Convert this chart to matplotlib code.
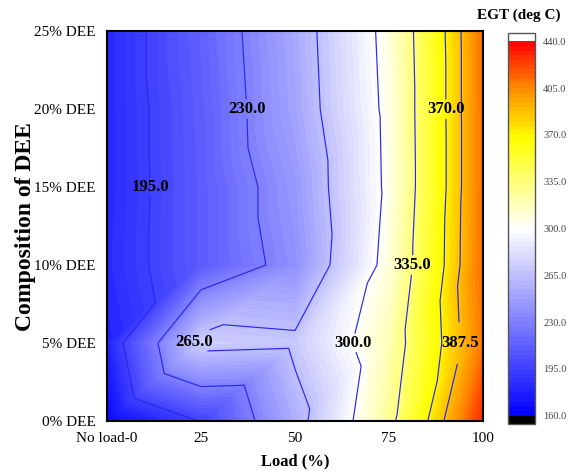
import matplotlib
matplotlib.use("Agg")
import matplotlib.pyplot as plt
import matplotlib.tri as mtri
import numpy as np
from matplotlib.colors import LinearSegmentedColormap

# grid: engine load (%) x DEE share (%), exhaust gas temperature in deg C
loads = [0, 25, 50, 75, 100]
load_labels = ["No load-0", "25", "50", "75", "100"]
dee = [0, 5, 10, 15, 20, 25]
dee_labels = ["0% DEE", "5% DEE", "10% DEE", "15% DEE", "20% DEE", "25% DEE"]
egt_dee0 = [163, 196, 255, 328, 430]
egt_dee5 = [179, 273, 270, 319, 410]
egt_dee10 = [183, 210, 239, 309, 413]
egt_dee15 = [182, 210, 243, 305, 412]
egt_dee20 = [182, 211, 250, 306, 412]
egt_dee25 = [182, 213, 252, 308, 412]
steep_levels = [195, 230, 300, 335, 370]   # labelled where the line runs upright
flat_levels = [265, 387.5]
cbar_ticks = [160, 195, 230, 265, 300, 335, 370, 405, 440]

plt.rcParams["font.family"] = ["Liberation Serif", "DejaVu Serif"]

egt = np.array([egt_dee0, egt_dee5, egt_dee10, egt_dee15, egt_dee20, egt_dee25], float)
X, Y = np.meshgrid(loads, dee)
nx = len(loads)
tris = []
for j in range(len(dee) - 1):
    for i in range(nx - 1):
        a = j * nx + i
        tris += [[a, a + 1, a + nx + 1], [a, a + nx + 1, a + nx]]
tri = mtri.Triangulation(X.ravel(), Y.ravel(), tris)

cmap = LinearSegmentedColormap.from_list(
    "egt", [(0, "#0000ff"), (0.5, "#ffffff"), (0.74, "#ffff00"),
            (0.87, "#ff9000"), (1, "#ff0000")])
cmap.set_under("black")
cmap.set_over("white")

fig = plt.figure(figsize=(5.69, 4.72), dpi=100)
ax = fig.add_axes([0.188, 0.108, 0.661, 0.826])
levels = np.arange(160, 440.01, 3.5)
cf = ax.tricontourf(tri, egt.ravel(), levels=levels, cmap=cmap, extend="both")
cl1 = ax.tricontour(tri, egt.ravel(), levels=steep_levels, colors="#2828f0",
                    linewidths=0.85)
cl2 = ax.tricontour(tri, egt.ravel(), levels=flat_levels, colors="#2828f0",
                    linewidths=0.85)

# bold, upright labels; near-vertical lines get a shorter gap
plt.rcParams["font.weight"] = "bold"
texts = ax.clabel(cl1, fmt="%.1f", fontsize=12, colors="black", inline=True,
                  inline_spacing=-9,
                  manual=[(36.7, 20), (10.9, 15), (90.7, 20), (81.9, 10),
                          (65.2, 5)])
texts += ax.clabel(cl2, fmt="%.1f", fontsize=12, colors="black", inline=True,
                   inline_spacing=2, manual=[(23.4, 5), (94.1, 5)])
plt.rcParams["font.weight"] = "normal"
for t in texts:
    t.set_rotation(0)

ax.set_xlim(0, 100)
ax.set_ylim(0, 25)
ax.set_xticks(loads, load_labels, fontsize=11)
ax.set_yticks(dee, dee_labels, fontsize=11)
ax.tick_params(length=0, pad=8)
for sp in ax.spines.values():
    sp.set_linewidth(1.5)
ax.set_xlabel("Load (%)", fontsize=12, fontweight="bold", labelpad=6)
ax.set_ylabel("Composition of DEE", fontsize=17, fontweight="bold")
ax.yaxis.set_label_coords(-0.19, 0.5)

cax = fig.add_axes([0.893, 0.102, 0.047, 0.828])
cb = fig.colorbar(cf, cax=cax, extendrect=True, extendfrac=0.022,
                  ticks=cbar_ticks, format="%.1f")
cb.outline.set_edgecolor("#555555")
cb.outline.set_linewidth(1)
cax.tick_params(length=0, labelsize=7.5, colors="#444444", pad=6)
fig.text(0.912, 0.968, "EGT (deg C)", ha="center", va="center",
         fontsize=11, fontweight="bold")

fig.savefig("out.png", dpi=100)
